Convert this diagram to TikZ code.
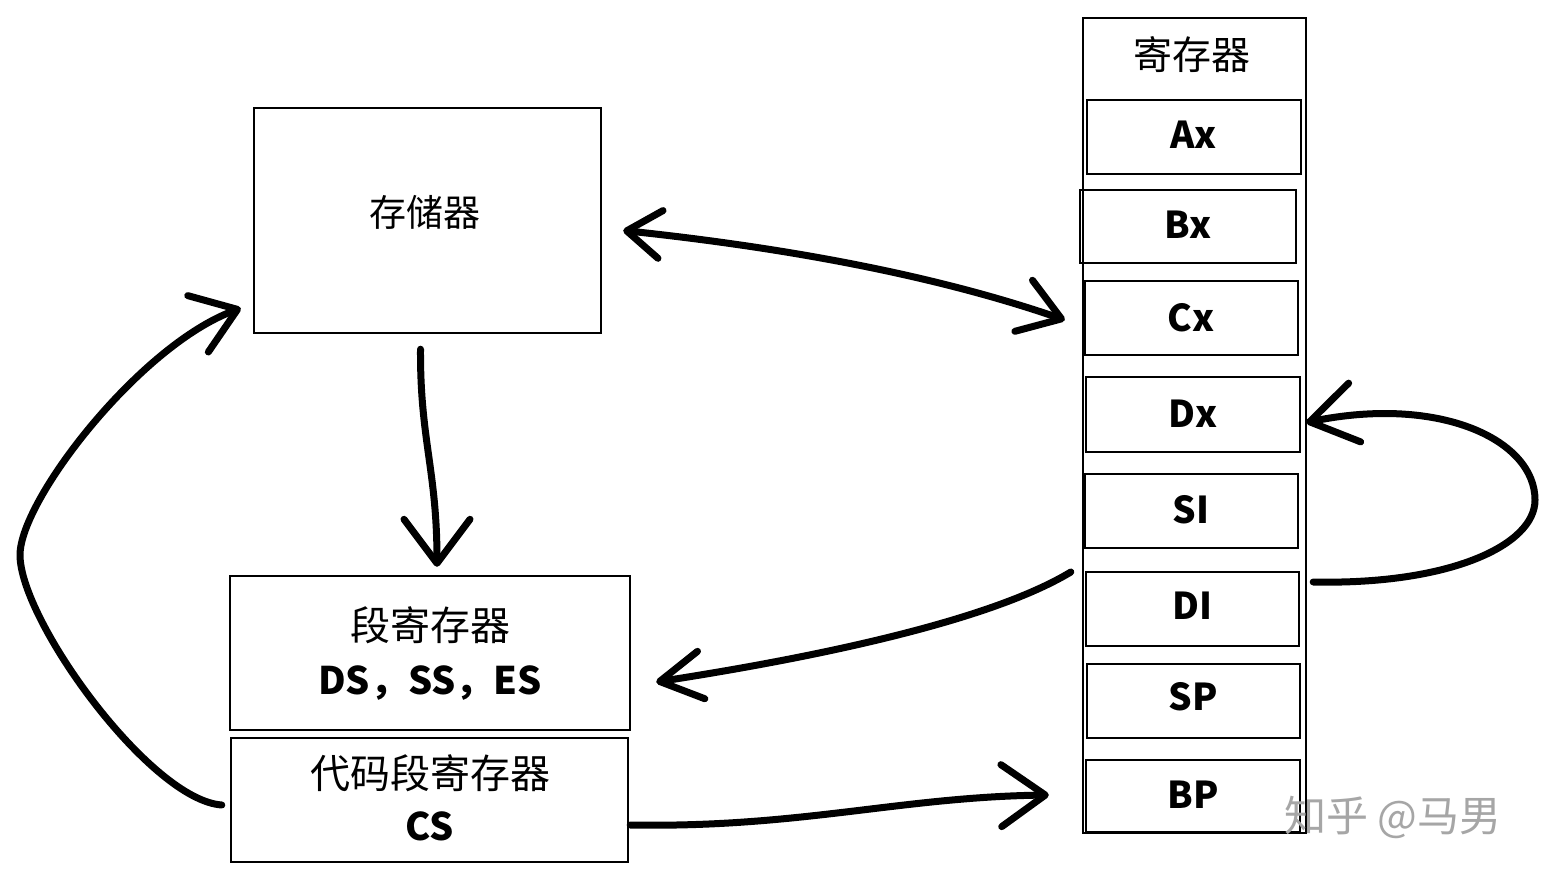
\documentclass[tikz,border=0pt]{standalone}
\usepackage{fontspec}
\setmainfont{Noto Sans CJK SC}
\usetikzlibrary{arrows.meta,calc}
\begin{document}
\begin{tikzpicture}[x=1pt,y=-1pt,
  box/.style={draw, line width=2.4pt, inner sep=0pt},
  lbl/.style={inner sep=0pt, font=\fontsize{40}{44}\selectfont},
  latlbl/.style={inner sep=0pt, font=\fontsize{38}{42}\selectfont\bfseries},
  reglbl/.style={inner sep=0pt, font=\fontsize{37}{40}\selectfont\bfseries},
  conn/.style={line width=7pt, line cap=round, line join=round}
]
\useasboundingbox (0,0) rectangle (1557,882);
\fill[white] (0,0) rectangle (1557,882);

% left boxes
\node[box, minimum width=347pt, minimum height=225pt] (mem) at (427.5,220.5) {};
\node[lbl, font=\fontsize{37}{40}\selectfont] (memt) at (425,212) {存储器};
\node[box, minimum width=400pt, minimum height=154pt] (seg) at (430,653) {};
\node[lbl] (segt1) at (430,625) {段寄存器};
\node[latlbl] (segt2) at (430,683) {DS，SS，ES};
\node[box, minimum width=397pt, minimum height=124pt] (cs) at (429.5,800) {};
\node[lbl] (cst1) at (430,773) {代码段寄存器};
\node[latlbl] (cst2) at (430,826) {CS};

% register column
\node[box, minimum width=223pt, minimum height=815pt] (regs) at (1194.5,425.5) {};
\node[lbl, font=\fontsize{39}{42}\selectfont] (regt) at (1192,55) {寄存器};
\node[box, minimum width=214pt, minimum height=74pt] (AX) at (1194,137) {};
\node[box, minimum width=216pt, minimum height=73pt] (BX) at (1188,226.5) {};
\node[box, minimum width=213pt, minimum height=74pt] (CX) at (1191.5,318) {};
\node[box, minimum width=214pt, minimum height=75pt] (DX) at (1193,414.5) {};
\node[box, minimum width=213pt, minimum height=74pt] (SI) at (1191.5,511) {};
\node[box, minimum width=213pt, minimum height=74pt] (DI) at (1192.5,609) {};
\node[box, minimum width=213pt, minimum height=74pt] (SP) at (1193.5,701) {};
\node[box, minimum width=214pt, minimum height=72pt] (BP) at (1193,796) {};
\node[reglbl] (AXt) at (1194,135) {Ax};
\node[reglbl] (BXt) at (1188,225) {Bx};
\node[reglbl] (CXt) at (1191,318) {Cx};
\node[reglbl] (DXt) at (1193,414) {Dx};
\node[reglbl] (SIt) at (1191,510) {SI};
\node[reglbl] (DIt) at (1192,606) {DI};
\node[reglbl] (SPt) at (1193,697) {SP};
\node[reglbl] (BPt) at (1193,795) {BP};

% connectors
\draw[conn, {Straight Barb[length=34pt,width=48pt,round]}-{Straight Barb[length=40pt,width=54pt,round]}]
  ($(mem.east)+(21,10)$) .. controls (760,245) and (920,270) .. ($(CX.west)+(-19,2)$);
\draw[conn, -{Straight Barb[length=44pt,width=66pt,round]}]
  ($(mem.south)+(-7,15)$) .. controls (420,440) and (437,470) .. ($(seg.north)+(7,-8)$);
\draw[conn, -{Straight Barb[length=42pt,width=48pt,round]}]
  ($(DI.west)+(-14,-37)$) .. controls (1000,615) and (850,652) .. ($(seg.east)+(25,29)$);
\draw[conn, -{Straight Barb[length=44pt,width=62pt,round]}]
  ($(cs.east)+(1,25)$) .. controls (800,828) and (900,797) .. ($(BP.west)+(-36,-1)$);
\draw[conn, -{Straight Barb[length=42pt,width=60pt,round]}]
  ($(cs.west)+(-8,5)$) .. controls (150,800) and (20,620) .. (20,555)
  .. controls (20,500) and (140,345) .. ($(mem.south west)+(-12,-26)$);
\draw[conn, -{Straight Barb[length=46pt,width=60pt,round]}]
  ($(DI.east)+(13,-27)$) .. controls (1450,585) and (1535,545) .. (1535,500)
  .. controls (1535,440) and (1440,395) .. ($(DX.east)+(5,8)$);

% watermark
\node[inner sep=0pt, text=black!35, font=\fontsize{42}{46}\selectfont] (wm) at (1393,817) {知乎 @马男};
\end{tikzpicture}
\end{document}
